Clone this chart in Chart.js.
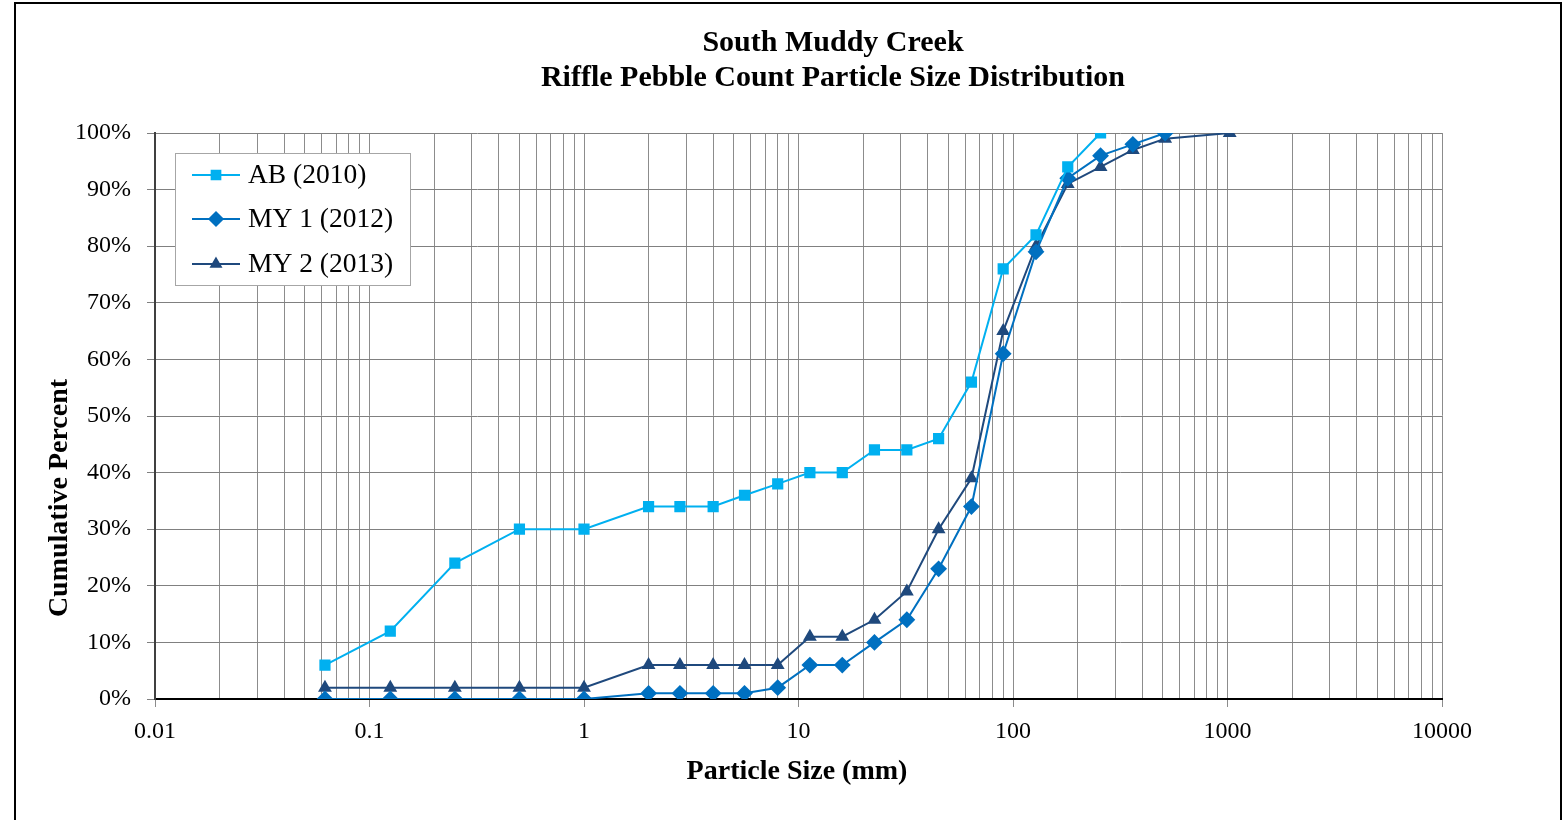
<!DOCTYPE html>
<html>
<head>
<meta charset="utf-8">
<script src="https://cdn.jsdelivr.net/npm/chart.js@4/dist/chart.umd.min.js"></script>
<style>
  html, body { margin: 0; padding: 0; background: #fff; overflow: hidden; }
  #wrap { position: absolute; left: 0; top: 0; width: 1565px; height: 820px; }
</style>
</head>
<body>
<div id="wrap"><canvas id="sizeChart" width="1565" height="820"></canvas></div>
<script>
// particle sizes (mm)
var sizes = [0.062, 0.125, 0.25, 0.5, 1, 2, 2.8, 4, 5.6, 8, 11.3, 16, 22.6, 32, 45, 64, 90, 128, 180, 256, 362, 512, 1024];
// cumulative percent per survey
var ab2010 = [6, 12, 24, 30, 30, 34, 34, 34, 36, 38, 40, 40, 44, 44, 46, 56, 76, 82, 94, 100];
var my2012 = [0, 0, 0, 0, 0, 1, 1, 1, 1, 2, 6, 6, 10, 14, 23, 34, 61, 79, 92, 96, 98, 100];
var my2013 = [2, 2, 2, 2, 2, 6, 6, 6, 6, 6, 11, 11, 14, 19, 30, 39, 65, 80, 91, 94, 97, 99, 100];
var decades = [0.01, 0.1, 1, 10, 100, 1000, 10000];
var decadeLabels = ['0.01', '0.1', '1', '10', '100', '1000', '10000'];

var titleLines = ['South Muddy Creek', 'Riffle Pebble Count Particle Size Distribution'];
var xTitle = 'Particle Size (mm)';
var yTitle = 'Cumulative Percent';

function toPoints(vals) {
    return vals.map(function (v, i) { return { x: sizes[i], y: v }; });
}

var serif = "'Liberation Serif', 'Times New Roman', serif";

// title, axis titles, legend box and frame
var decorPlugin = {
    id: 'decor',
    beforeDraw: function (chart) {
        var c = chart.ctx;
        c.save();
        c.fillStyle = '#fff';
        c.fillRect(0, 0, chart.width, chart.height);
        c.restore();
    },
    afterDraw: function (chart) {
        var c = chart.ctx;
        c.save();
        // outer frame
        c.strokeStyle = '#000';
        c.lineWidth = 2;
        c.strokeRect(15, 3, 1546, 900);

        c.fillStyle = '#000';
        c.textAlign = 'center';
        c.textBaseline = 'middle';
        c.font = 'bold 30px ' + serif;
        c.fillText(titleLines[0], 833, 43);
        c.fillText(titleLines[1], 833, 78);

        c.font = 'bold 28px ' + serif;
        c.fillText(xTitle, 797, 772);
        c.translate(60, 498);
        c.rotate(-Math.PI / 2);
        c.fillText(yTitle, 0, 0);
        c.restore();

        // legend
        c.save();
        c.fillStyle = '#fff';
        c.fillRect(175, 153, 235, 132);
        c.strokeStyle = '#a6a6a6';
        c.lineWidth = 1;
        c.strokeRect(175.5, 153.5, 235, 132);
        var rows = [175, 219, 264];
        chart.data.datasets.forEach(function (ds, i) {
            var y = rows[i];
            c.strokeStyle = ds.borderColor;
            c.lineWidth = 2;
            c.beginPath();
            c.moveTo(192, y);
            c.lineTo(240, y);
            c.stroke();
            c.fillStyle = ds.backgroundColor;
            c.lineWidth = 1.5;
            Chart.helpers.drawPoint(c, { pointStyle: ds.pointStyle, radius: ds.pointRadius, borderWidth: 1.5 }, 216, y);
            c.fillStyle = '#000';
            c.textAlign = 'left';
            c.textBaseline = 'middle';
            c.font = '27.5px ' + serif;
            c.fillText(ds.label, 248, y + 1);
        });
        c.restore();
    }
};

var ctx = document.getElementById('sizeChart').getContext('2d');
new Chart(ctx, {
    type: 'line',
    data: {
        datasets: [{
            label: 'AB (2010)',
            data: toPoints(ab2010),
            borderColor: '#00B0F0',
            backgroundColor: '#00B0F0',
            pointStyle: 'rect',
            pointRadius: 6.5,
            borderWidth: 2,
            fill: false
        }, {
            label: 'MY 1 (2012)',
            data: toPoints(my2012),
            borderColor: '#0070C0',
            backgroundColor: '#0070C0',
            pointStyle: 'rectRot',
            pointRadius: 7,
            borderWidth: 2,
            fill: false
        }, {
            label: 'MY 2 (2013)',
            data: toPoints(my2013),
            borderColor: '#1F497D',
            backgroundColor: '#1F497D',
            pointStyle: 'triangle',
            pointRadius: 6,
            borderWidth: 2,
            fill: false
        }]
    },
    options: {
        responsive: false,
        animation: false,
        layout: { padding: { top: 133, right: 123, left: 0, bottom: 0 } },
        plugins: {
            legend: { display: false },
            title: { display: false },
            tooltip: { enabled: false }
        },
        elements: { line: { tension: 0 }, point: { borderWidth: 0 } },
        scales: {
            x: {
                type: 'logarithmic',
                min: 0.01,
                max: 10000,
                afterFit: function (scale) { scale.height = 121; },
                afterBuildTicks: function (scale) {
                    var ticks = [];
                    decades.forEach(function (d, i) {
                        if (i === decades.length - 1) {
                            ticks.push({ value: d, major: true });
                            return;
                        }
                        for (var m = 1; m <= 9; m++) {
                            ticks.push({ value: m * d, major: m === 1 });
                        }
                    });
                    scale.ticks = ticks;
                },
                ticks: {
                    autoSkip: false,
                    maxRotation: 0,
                    padding: 10,
                    color: '#000',
                    font: { family: serif, size: 24 },
                    callback: function (value, index, ticks) {
                        return ticks[index].major ? decadeLabels[Math.round(Math.log10(value)) + 2] : '';
                    }
                },
                grid: {
                    color: '#8c8c8c',
                    lineWidth: 1,
                    tickLength: 8,
                    tickColor: function (c) { return c.tick && c.tick.major ? '#8c8c8c' : 'rgba(0,0,0,0)'; }
                },
                border: { color: '#000', width: 2 }
            },
            y: {
                min: 0,
                max: 100,
                afterFit: function (scale) { scale.width = 155; },
                ticks: {
                    stepSize: 10,
                    padding: 16,
                    color: '#000',
                    font: { family: serif, size: 24 },
                    callback: function (v) { return v + '%'; }
                },
                grid: {
                    color: '#808080',
                    lineWidth: 1,
                    tickLength: 8,
                    tickColor: '#808080'
                },
                border: { color: '#404040', width: 2 }
            }
        }
    },
    plugins: [decorPlugin]
});
</script>
</body>
</html>
